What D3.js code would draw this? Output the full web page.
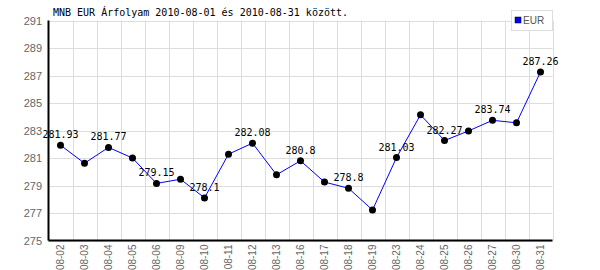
<!DOCTYPE html>
<html><head><meta charset="utf-8">
<script src="https://cdn.jsdelivr.net/npm/d3@7"></script>
<style>body{margin:0;background:#fff}svg{display:block}</style>
</head><body>
<svg id="c" width="600" height="270"></svg>
<script>
const title = "MNB EUR Árfolyam 2010-08-01 és 2010-08-31 között.";
const categories = ["08-02","08-03","08-04","08-05","08-06","08-09","08-10","08-11","08-12","08-13","08-16","08-17","08-18","08-19","08-23","08-24","08-25","08-26","08-27","08-30","08-31"];
const values = [281.93,280.62,281.77,281.0,279.15,279.46,278.1,281.28,282.08,279.78,280.8,279.25,278.8,277.22,281.03,284.14,282.27,282.97,283.74,283.56,287.26];
const labeled = [true,false,true,false,true,false,true,false,true,false,true,false,true,false,true,false,true,false,true,false,true];
const yTicks = [275,277,279,281,283,285,287,289,291];
const seriesName = "EUR";

const svg = d3.select("#c");
const L = 48.5, R = 552.5, T = 20.5, B = 240.5;
const x = d3.scaleBand().domain(categories).range([L, R]).padding(0);
const y = d3.scaleLinear().domain([275, 291]).range([B, T]);

// grid
const g = svg.append("g");
g.selectAll("line.h").data(yTicks).join("line")
  .attr("x1", L).attr("x2", R).attr("y1", d => Math.round(y(d)) + 0.5).attr("y2", d => Math.round(y(d)) + 0.5)
  .attr("stroke", "#dddddd");
const bounds = categories.map(c => x(c) + x.bandwidth());
g.selectAll("line.v").data(bounds).join("line")
  .attr("x1", d => Math.round(d) + 0.5).attr("x2", d => Math.round(d) + 0.5).attr("y1", T).attr("y2", B)
  .attr("stroke", "#dddddd");

// axes lines
svg.append("line").attr("x1", L).attr("x2", L).attr("y1", T).attr("y2", B).attr("stroke", "#000").attr("stroke-width", 2);
svg.append("line").attr("x1", L).attr("x2", R).attr("y1", B).attr("y2", B).attr("stroke", "#000").attr("stroke-width", 2);

// y tick labels
svg.selectAll("text.yt").data(yTicks).join("text")
  .attr("x", 42).attr("y", d => y(d) + 4)
  .attr("text-anchor", "end").attr("font-family", "Liberation Sans, Arial, sans-serif").attr("font-size", 11)
  .attr("fill", "#666").text(d => d);

// x tick labels
svg.selectAll("text.xt").data(categories).join("text")
  .attr("transform", d => `translate(${x(d) + x.bandwidth()/2 + 3.5},${B + 4}) rotate(-90)`)
  .attr("text-anchor", "end").attr("font-family", "Liberation Sans, Arial, sans-serif").attr("font-size", 10)
  .attr("fill", "#666").text(d => d);

// line
const cx = (d, i) => x(categories[i]) + x.bandwidth()/2;
svg.append("path").datum(values)
  .attr("d", d3.line().x((d, i) => cx(d, i)).y(d => y(d)))
  .attr("fill", "none").attr("stroke", "#0000ff").attr("stroke-width", 1);

// points
svg.selectAll("circle").data(values).join("circle")
  .attr("cx", cx).attr("cy", d => y(d)).attr("r", 3.5).attr("fill", "#000");

// value labels
svg.selectAll("text.vl").data(values.map((v, i) => ({v, i})).filter(d => labeled[d.i])).join("text")
  .attr("x", d => cx(d.v, d.i)).attr("y", d => y(d.v) - 7)
  .attr("text-anchor", "middle").attr("font-family", "DejaVu Sans Mono, monospace").attr("font-size", 10)
  .attr("fill", "#000").text(d => d.v);

// title
svg.append("text").attr("x", 53).attr("y", 16)
  .attr("font-family", "DejaVu Sans Mono, monospace").attr("font-size", 10).attr("fill", "#000").text(title);

// legend
svg.append("rect").attr("x", 511.5).attr("y", 10.5).attr("width", 41).attr("height", 20)
  .attr("fill", "#fff").attr("stroke", "#dddddd");
svg.append("rect").attr("x", 515).attr("y", 17).attr("width", 6).attr("height", 6)
  .attr("fill", "#0000ff").attr("stroke", "#000").attr("stroke-width", 0.5);
svg.append("text").attr("x", 523).attr("y", 24).attr("font-family", "Liberation Sans, Arial, sans-serif")
  .attr("font-size", 10).attr("fill", "#555").text(seriesName);
</script>
</body></html>
